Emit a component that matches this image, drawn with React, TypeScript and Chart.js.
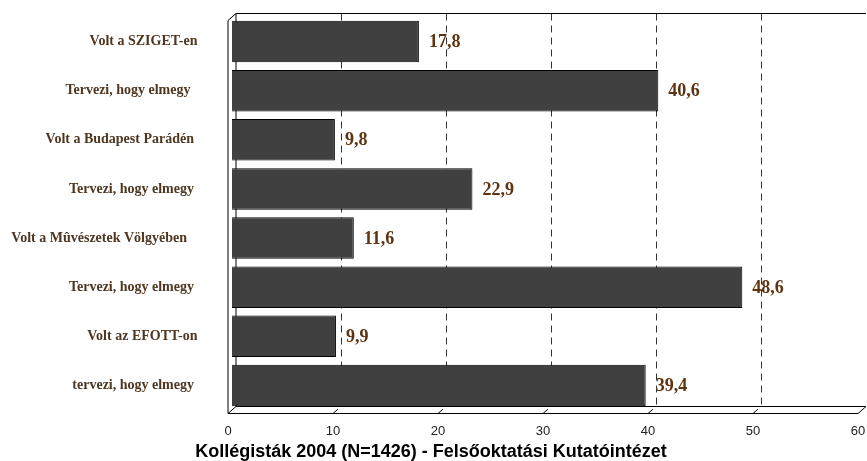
import React, { useEffect, useRef } from "react";
import { Chart, registerables } from "chart.js";

Chart.register(...registerables);

const categories = [
  "Volt a SZIGET-en",
  "Tervezi, hogy elmegy  ",
  "Volt a Budapest Parádén ",
  "Tervezi, hogy elmegy ",
  "Volt a Mûvészetek Völgyében   ",
  "Tervezi, hogy elmegy ",
  "Volt az EFOTT-on",
  "tervezi, hogy elmegy ",
];
const values = [17.8, 40.6, 9.8, 22.9, 11.6, 48.6, 9.9, 39.4];
const xTicks = [0, 10, 20, 30, 40, 50, 60];
const titleText = "Kollégisták 2004 (N=1426) - Felsőoktatási Kutatóintézet";

const DX = 4;
const DY = 3.5;

const zeroPad = (s: any) => {
  s.paddingTop = 0;
  s.paddingBottom = 0;
  s.paddingLeft = 0;
  s.paddingRight = 0;
};

const framePlugin = {
  id: "frame3d",
  beforeDatasetsDraw(chart: any) {
    const { ctx, chartArea } = chart;
    const xs = chart.scales.x;
    const { left, right, top, bottom } = chartArea;
    const fl = left - DX, fb = bottom + DY, ft = top + DY, fr = right - DX;
    const bl = left + DX, bb = bottom - DY, bt = top - DY, br = right + DX;
    ctx.save();
    ctx.lineWidth = 1;
    ctx.strokeStyle = "#333";
    ctx.setLineDash([7, 5]);
    xTicks.forEach((v) => {
      if (v === xTicks[0] || v === xTicks[xTicks.length - 1]) return;
      const x = Math.round(xs.getPixelForValue(v) + DX) + 0.5;
      ctx.beginPath();
      ctx.moveTo(x, bt);
      ctx.lineTo(x, bb);
      ctx.stroke();
    });
    ctx.setLineDash([]);
    ctx.strokeStyle = "#000";
    ctx.beginPath();
    ctx.moveTo(bl, bb);
    ctx.lineTo(bl, bt);
    ctx.lineTo(br, bt);
    ctx.moveTo(bl, bb);
    ctx.lineTo(br, bb);
    ctx.moveTo(fl, ft);
    ctx.lineTo(bl, bt);
    ctx.moveTo(fl, fb);
    ctx.lineTo(bl, bb);
    ctx.moveTo(fr, fb);
    ctx.lineTo(br, bb);
    ctx.stroke();
    ctx.restore();
  },
  afterDatasetsDraw(chart: any) {
    const { ctx, chartArea } = chart;
    const xs = chart.scales.x;
    const { left, right, top, bottom } = chartArea;
    const fl = left - DX, fb = bottom + DY, ft = top + DY, fr = right - DX;
    ctx.save();
    ctx.lineWidth = 1;
    ctx.strokeStyle = "#000";
    ctx.beginPath();
    ctx.moveTo(fl, ft);
    ctx.lineTo(fl, fb);
    ctx.lineTo(fr, fb);
    xTicks.forEach((v) => {
      if (v === xTicks[0] || v === xTicks[xTicks.length - 1]) return;
      const x = xs.getPixelForValue(v) - DX;
      ctx.moveTo(x, fb);
      ctx.lineTo(x + 2 * DX * 0.6, fb - 2 * DY * 0.6);
    });
    ctx.stroke();

    const meta = chart.getDatasetMeta(0);
    ctx.fillStyle = "#5e3410";
    ctx.font = "bold 18px 'Liberation Serif', 'Times New Roman', serif";
    ctx.textAlign = "left";
    ctx.textBaseline = "middle";
    meta.data.forEach((bar: any, i: number) => {
      const txt = values[i].toFixed(1).replace(".", ",");
      ctx.fillText(txt, bar.x + 10, bar.y + 1);
    });
    ctx.restore();
  },
};

export default function App() {
  const ref = useRef<HTMLCanvasElement>(null);
  useEffect(() => {
    if (!ref.current) return;
    const chart = new Chart(ref.current, {
      type: "bar",
      data: {
        labels: categories,
        datasets: [
          {
            data: values,
            backgroundColor: "#404040",
            borderColor: "#000",
            borderWidth: 1,
            barPercentage: 0.846,
            categoryPercentage: 1,
          },
        ],
      },
      options: {
        indexAxis: "y",
        animation: false,
        responsive: false,
        maintainAspectRatio: false,
        devicePixelRatio: 1,
        layout: { autoPadding: false, padding: { top: 17, right: 5, left: 0, bottom: 0 } },
        plugins: {
          legend: { display: false },
          tooltip: { enabled: false },
          title: {
            display: true,
            text: titleText,
            position: "bottom",
            color: "#000",
            font: { family: "'Liberation Sans', Arial, sans-serif", size: 18, weight: "bold", lineHeight: 1.0 },
            padding: { top: 0, bottom: 0 },
          },
        },
        scales: {
          x: {
            min: 0,
            max: 60,
            afterBuildTicks: (s: any) => {
              s.ticks = xTicks.map((v) => ({ value: v }));
            },
            afterFit: (s: any) => {
              s.height = 33;
              zeroPad(s);
            },
            grid: { display: false, drawTicks: false, tickLength: 0 },
            border: { display: false },
            ticks: {
              color: "#222",
              padding: 14,
              labelOffset: -4,
              maxRotation: 0,
              font: { family: "'Liberation Sans', Arial, sans-serif", size: 13 },
            },
          },
          y: {
            afterFit: (s: any) => {
              s.width = 232;
              zeroPad(s);
            },
            grid: { display: false, drawTicks: false, tickLength: 0 },
            border: { display: false },
            ticks: {
              color: "#4e3620",
              padding: 34.5,
              font: { family: "'Liberation Serif', 'Times New Roman', serif", size: 14, weight: "bold" },
            },
          },
        },
      },
      plugins: [framePlugin],
    } as any);
    return () => chart.destroy();
  }, []);
  return (
    <div style={{ position: "fixed", left: 0, top: 0, width: 867, height: 461, background: "#fff" }}>
      <canvas ref={ref} width={867} height={461} style={{ width: 867, height: 461, display: "block" }} />
    </div>
  );
}
